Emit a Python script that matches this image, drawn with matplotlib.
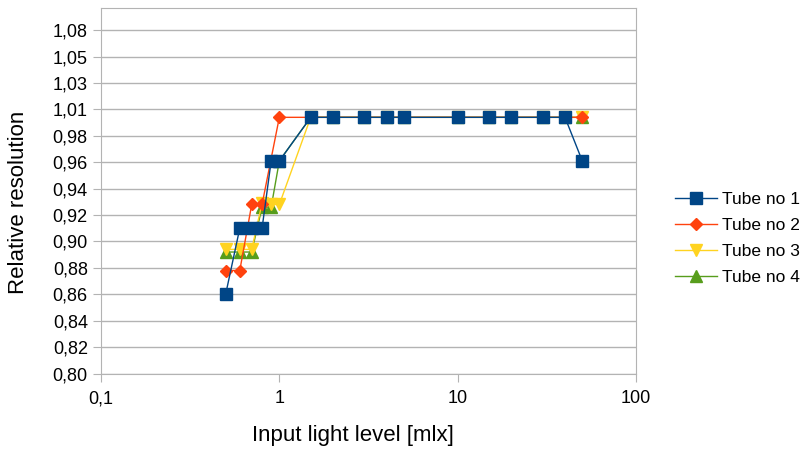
import numpy as np
import matplotlib
matplotlib.use("Agg")
import matplotlib.pyplot as plt

plt.rcParams['font.family'] = ['Liberation Sans', 'DejaVu Sans']

# light levels [mlx]
x_t1 = [0.5, 0.6, 0.7, 0.8, 0.9, 1.0, 1.5, 2, 3, 4, 5, 10, 15, 20, 30, 40, 50]
y_t1 = [0.860, 0.910, 0.910, 0.910, 0.961, 0.961, 0.994, 0.994, 0.994, 0.994,
        0.994, 0.994, 0.994, 0.994, 0.994, 0.994, 0.961]

x_t2 = [0.5, 0.6, 0.7, 0.8, 1.0, 1.5, 2, 3, 4, 5, 10, 15, 20, 30, 40, 50]
y_t2 = [0.878, 0.878, 0.928, 0.928, 0.994, 0.994, 0.994, 0.994, 0.994, 0.994,
        0.994, 0.994, 0.994, 0.994, 0.994, 0.994]

x_t3 = [0.5, 0.6, 0.7, 0.8, 0.9, 1.0, 1.5, 2, 3, 4, 5, 10, 15, 20, 30, 40, 50]
y_t3 = [0.894, 0.894, 0.894, 0.929, 0.928, 0.928, 0.994, 0.994, 0.994, 0.994,
        0.994, 0.994, 0.994, 0.994, 0.994, 0.994, 0.994]

x_t4 = [0.5, 0.6, 0.7, 0.8, 0.9, 1.0, 1.5, 2, 3, 4, 5, 10, 15, 20, 30, 40, 50]
y_t4 = [0.892, 0.892, 0.892, 0.926, 0.926, 0.961, 0.994, 0.994, 0.994, 0.994,
        0.994, 0.994, 0.994, 0.994, 0.994, 0.994, 0.994]

ytick_labels = ["0,80", "0,82", "0,84", "0,86", "0,88", "0,90", "0,92",
                "0,94", "0,96", "0,98", "1,01", "1,03", "1,05", "1,08"]
xtick_vals = [0.1, 1, 10, 100]
xtick_labels = ["0,1", "1", "10", "100"]

fig = plt.figure(figsize=(8.05, 4.51), dpi=100)
ax = fig.add_axes([0.1255, 0.1718, 0.6645, 0.8105])

ax.plot(x_t4, y_t4, '-^', color='#579d1c', lw=1, ms=8, mec='#579d1c', label='Tube no 4', zorder=3)
ax.plot(x_t3, y_t3, '-v', color='#ffd320', lw=1, ms=8, mec='#ffd320', label='Tube no 3', zorder=4)
ax.plot(x_t2, y_t2, '-D', color='#ff420e', lw=1, ms=6, mec='#ff420e', label='Tube no 2', zorder=5)
ax.plot(x_t1, y_t1, '-s', color='#004586', lw=1, ms=8, mec='#004586', label='Tube no 1', zorder=6)

ax.set_xscale('log')
ax.set_xlim(0.1, 100)
ax.set_xticks(xtick_vals)
ax.set_xticklabels(xtick_labels)
ax.xaxis.set_minor_locator(matplotlib.ticker.NullLocator())

yt = 0.80 + 0.02 * np.arange(len(ytick_labels))
ax.set_yticks(yt)
ax.set_yticklabels(ytick_labels)
ax.set_ylim(0.80, 1.0768)

ax.grid(axis='y', color='#b3b3b3', lw=1)
ax.set_axisbelow(True)
for s in ax.spines.values():
    s.set_color('#b3b3b3')
ax.tick_params(axis='both', colors='#b3b3b3', labelcolor='black', labelsize=13, length=6)
ax.tick_params(axis='x', pad=6)

fig.text(353 / 805, 1 - 436 / 451, "Input light level [mlx]", fontsize=16,
         ha='center', va='center')
fig.text(19 / 805, 1 - 202 / 451, "Relative resolution", fontsize=16,
         rotation=90, ha='center', va='center')

h, l = ax.get_legend_handles_labels()
fig.legend(h[::-1], l[::-1], loc='center left', bbox_to_anchor=(675 / 805, 1 - 238.5 / 451),
           frameon=False, fontsize=12.5, handlelength=2.4, handletextpad=0.3,
           labelspacing=0.62, borderaxespad=0, borderpad=0)

fig.savefig("out.png", dpi=100)
